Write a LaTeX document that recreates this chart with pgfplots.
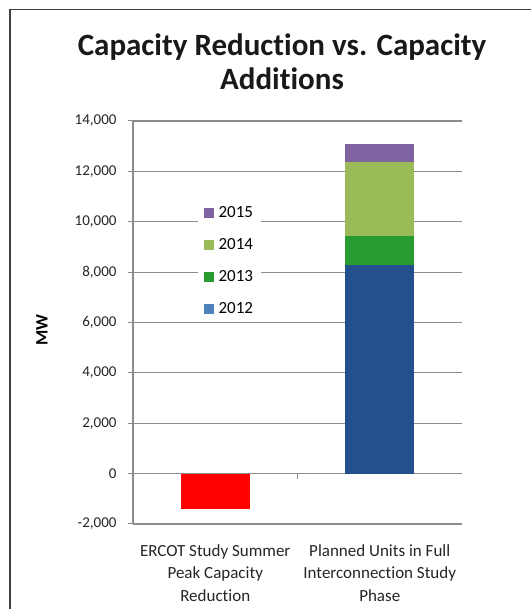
\documentclass[border=0pt]{standalone}
\usepackage{pgfplots}
\pgfplotsset{compat=1.18}
\usepackage{fontspec}
\setmainfont{Carlito}[Ligatures=NoCommon]
\definecolor{c2012}{HTML}{24508E}
\definecolor{c2012leg}{HTML}{4F81BD}
\definecolor{c2013}{HTML}{289C30}
\definecolor{c2014}{HTML}{9BBB59}
\definecolor{c2015}{HTML}{8064A2}
\definecolor{gridgray}{HTML}{8C8C8C}
\begin{document}
\begin{tikzpicture}[x=1pt,y=1pt]
\useasboundingbox (0,0) rectangle (530,609);
\fill[white] (0,0) rectangle (530,609);
\begin{axis}[
  at={(133pt,85pt)}, anchor=south west,
  scale only axis, width=329pt, height=403pt,
  xmin=-0.5, xmax=1.5, ymin=-2000, ymax=14000,
  ybar stacked, bar width=0.42,
  axis lines*=left,
  axis line style={gridgray, line width=1.2pt},
  ytick={-2000,0,2000,4000,6000,8000,10000,12000,14000},
  ymajorgrids, grid style={gridgray, line width=1.2pt},
  tick align=outside, major tick length=5pt,
  ytick style={gridgray, line width=1pt},
  xtick={0,1}, xtick style={draw=none},
  xticklabels={ERCOT Study Summer\\Peak Capacity\\Reduction, Planned Units in Full\\Interconnection Study\\Phase},
  x tick label style={align=center, font=\fontsize{17}{22.5}\selectfont, text=black!85, yshift=-12pt},
  y tick label style={font=\fontsize{15}{17}\selectfont, text=black!85, xshift=-8pt},
  /pgf/number format/assume math mode=true,
  /pgf/number format/1000 sep={,},
  scaled y ticks=false,
  ylabel={MW},
  ylabel style={at={(axis description cs:-0.277,0.481)}, anchor=center, rotate=0, font=\bfseries\fontsize{17.5}{19}\selectfont},
  reverse legend,
  legend style={at={(axis description cs:0.197,0.798)}, anchor=north west, draw=none, fill=white,
    font=\fontsize{17}{19}\selectfont, row sep=15.5pt, inner xsep=6pt, inner ysep=2pt},
  legend cell align=left,
]
\addplot[fill=red, draw=none, forget plot] coordinates {(0,-1400) (1,0)};
\addplot[fill=c2012, draw=none, legend image code/.code={\fill[c2012leg] (0pt,-5pt) rectangle (10pt,5pt); \path (12.5pt,0pt);}] coordinates {(0,0) (1,8270)};
\addlegendentry{2012}
\addplot[fill=c2013, draw=none, legend image code/.code={\fill[c2013] (0pt,-5pt) rectangle (10pt,5pt); \path (12.5pt,0pt);}] coordinates {(0,0) (1,1180)};
\addlegendentry{2013}
\addplot[fill=c2014, draw=none, legend image code/.code={\fill[c2014] (0pt,-5pt) rectangle (10pt,5pt); \path (12.5pt,0pt);}] coordinates {(0,0) (1,2930)};
\addlegendentry{2014}
\addplot[fill=c2015, draw=none, legend image code/.code={\fill[c2015] (0pt,-5pt) rectangle (10pt,5pt); \path (12.5pt,0pt);}] coordinates {(0,0) (1,690)};
\addlegendentry{2015}
\draw[gridgray, line width=1.2pt] (axis cs:-0.5,0) -- (axis cs:1.5,0);
\draw[gridgray, line width=1pt] (axis cs:0.5,0) -- ([yshift=-5pt]axis cs:0.5,0);
\end{axis}
\node[anchor=base, font=\bfseries\fontsize{31}{33}\selectfont, text=black!90] at (282,553) {Capacity Reduction vs. Capacity};
\node[anchor=base, font=\bfseries\fontsize{31}{33}\selectfont, text=black!90] at (282,519) {Additions};
\draw[black!75, line width=1.5pt] (9.75,-10) -- (9.75,599.25) -- (540,599.25);
\end{tikzpicture}
\end{document}
